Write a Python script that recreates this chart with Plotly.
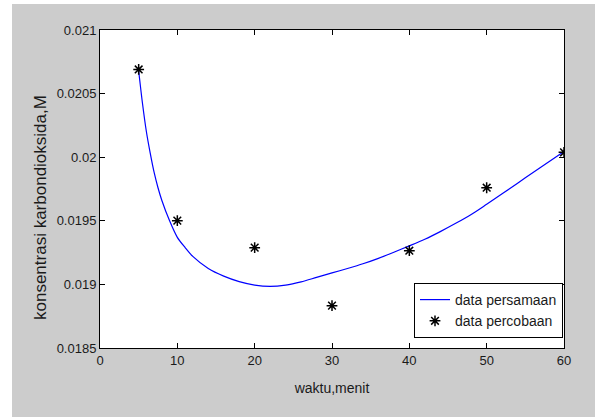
import plotly.graph_objects as go

# experimental data (data percobaan)
waktu_data = [5, 10, 20, 30, 40, 50, 60]
konsentrasi_data = [0.02069, 0.019501, 0.019289, 0.018833, 0.019265, 0.01976, 0.020038]

# fitted curve (data persamaan)
waktu_fit = [5.0, 5.5, 6.0, 6.5, 7.0, 7.5, 8.0, 9.0, 10.0, 11.0, 12.0, 14.0,
             16.0, 18.0, 20.0, 22.0, 24.0, 26.0, 28.0, 30.0, 32.0, 34.0, 36.0,
             38.0, 40.0, 42.0, 44.0, 46.0, 48.0, 50.0, 52.0, 54.0, 56.0, 58.0,
             60.0]
konsentrasi_fit = [0.02068, 0.02042, 0.02020, 0.02003, 0.01988, 0.01976,
                   0.01966, 0.01950, 0.01937, 0.01929, 0.01922, 0.019125,
                   0.019065, 0.019022, 0.018995, 0.018985, 0.018995, 0.019020,
                   0.019055, 0.019090, 0.019125, 0.019162, 0.019205, 0.019253,
                   0.019303, 0.019355, 0.019415, 0.019480, 0.019550, 0.019630,
                   0.019712, 0.019795, 0.019880, 0.019962, 0.020045]

x_ticks = [0, 10, 20, 30, 40, 50, 60]
y_ticks = [0.0185, 0.019, 0.0195, 0.02, 0.0205, 0.021]
y_ticktext = ["0.0185", "0.019", "0.0195", "0.02", "0.0205", "0.021"]

FONT = "Liberation Sans, Arial, sans-serif"
TXT = "#1a1a1a"

fig = go.Figure()
fig.add_trace(go.Scatter(
    x=waktu_fit, y=konsentrasi_fit, mode="lines", name="data persamaan",
    line=dict(color="#0000ff", width=1.2, shape="spline", smoothing=0.8),
))
fig.add_trace(go.Scatter(
    x=waktu_data, y=konsentrasi_data, mode="markers", name="data percobaan",
    marker=dict(symbol="asterisk-open", size=9, color="black",
                line=dict(color="black", width=1.5)),
))

axis_common = dict(
    showline=True, linecolor="black", linewidth=1, mirror="ticks",
    ticks="inside", ticklen=5, tickcolor="black", tickwidth=1,
    showgrid=False, zeroline=False,
    tickfont=dict(family=FONT, size=13, color=TXT),
)

W, H = 595, 417
L, R, T, B = 100, 31, 30, 69
pw, ph = W - L - R, H - T - B

fig.update_layout(
    width=W, height=H,
    margin=dict(l=L, r=R, t=T, b=B),
    paper_bgcolor="#cccccc",
    plot_bgcolor="white",
    font=dict(family=FONT, size=13, color=TXT),
    xaxis=dict(range=[0, 60], tickvals=x_ticks,
               title=dict(text="waktu,menit", standoff=16,
                          font=dict(family=FONT, size=14, color=TXT)),
               **axis_common),
    yaxis=dict(range=[0.0185, 0.021], tickvals=y_ticks, ticktext=y_ticktext,
               **axis_common),
    legend=dict(x=(563 - L) / pw, y=(H - B - 338) / ph,
                xanchor="right", yanchor="bottom",
                bgcolor="white", bordercolor="black", borderwidth=1,
                font=dict(family=FONT, size=14, color=TXT),
                entrywidth=144),
    showlegend=True,
    annotations=[
        dict(text="konsentrasi karbondioksida,M", textangle=-90,
             xref="paper", yref="paper",
             x=(40 - L) / pw, y=(H - B - 208) / ph,
             xanchor="center", yanchor="middle", showarrow=False,
             font=dict(family=FONT, size=17, color=TXT)),
    ],
    shapes=[
        dict(type="rect", xref="paper", yref="paper",
             x0=-L / pw, x1=(12 - L) / pw, y0=-B / ph, y1=(H - B) / ph,
             fillcolor="white", line=dict(width=0), layer="above"),
        dict(type="rect", xref="paper", yref="paper",
             x0=-L / pw, x1=(W - L) / pw, y0=(H - B - 4) / ph, y1=(H - B) / ph,
             fillcolor="white", line=dict(width=0), layer="above"),
    ],
)

fig.write_html("out.html", config={"displayModeBar": False},
               post_script="document.body.style.margin='0';document.body.style.overflow='hidden';")
